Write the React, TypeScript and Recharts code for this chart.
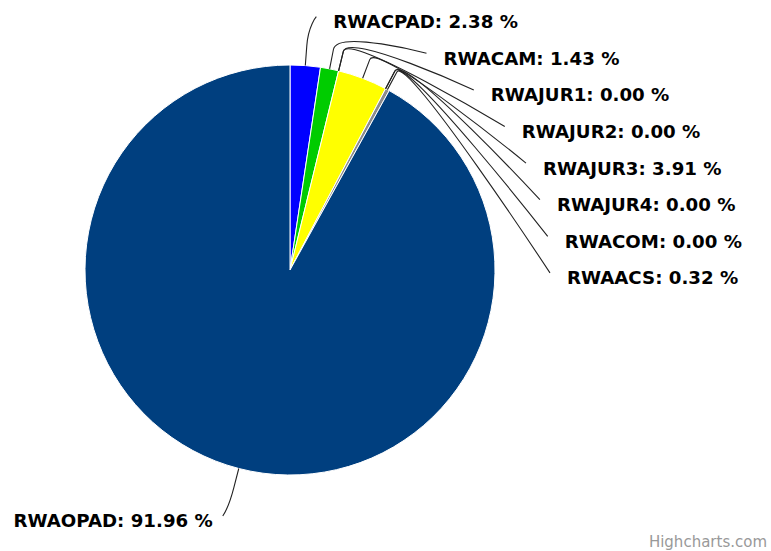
import { PieChart, Pie, Cell } from 'recharts'

const names = ['RWACPAD', 'RWACAM', 'RWAJUR1', 'RWAJUR2', 'RWAJUR3', 'RWAJUR4', 'RWACOM', 'RWAACS', 'RWAOPAD']
const values = [2.38, 1.43, 0, 0, 3.91, 0, 0, 0.32, 91.96]
const colors = ['#0000ff', '#00cc00', '#ff8000', '#aa4643', '#ffff00', '#89a54e', '#80699b', '#8c8c8c', '#003f7f']

const data = names.map((name, i) => ({ name, value: values[i] }))

const RADIUS = 205
// labels sit on an ellipse around the pie, like highcharts does it
const LABEL_RX = 260
const LABEL_RY = 254.6
const ROW = 36.6
const FONT = 'Verdana, "DejaVu Sans", sans-serif'

// stack the right-hand labels so they don't overlap
function labelYs(cy: number) {
  const total = values.reduce((a, b) => a + b, 0)
  let acc = 0
  let prev = -Infinity
  return values.map((v) => {
    const mid = 90 - ((acc + v / 2) / total) * 360
    acc += v
    const rad = (mid * Math.PI) / 180
    let y = cy - 254 * Math.sin(rad)
    if (Math.cos(rad) >= 0) {
      y = Math.max(y, prev + ROW)
      prev = y
    }
    return y
  })
}

function PieLabel(props: any) {
  const { cx, cy, midAngle, index, name, value } = props
  const rad = (midAngle * Math.PI) / 180
  const cos = Math.cos(rad)
  const sin = -Math.sin(rad)
  const right = cos >= 0
  const y = labelYs(cy)[index]
  const dy = Math.min(Math.abs(y - cy), LABEL_RY)
  const dx = LABEL_RX * Math.sqrt(1 - (dy / LABEL_RY) ** 2)
  const x = right ? cx + dx : cx - dx

  // soft connector: label end -> break point -> slice edge
  const tx = cx + RADIUS * cos
  const ty = cy + RADIUS * sin
  const bx = cx + (RADIUS + 20) * cos
  const by = cy + (RADIUS + 20) * sin
  const path = `M ${x} ${y} C ${x} ${y} ${2 * bx - tx} ${2 * by - ty} ${bx} ${by} L ${tx} ${ty}`

  return (
    <g>
      <path d={path} fill="none" stroke="#222" strokeWidth={1.1} />
      <text
        x={right ? x + 17 : x - 10}
        y={y + 5}
        textAnchor={right ? 'start' : 'end'}
        dominantBaseline="central"
        fill="#000"
        fontFamily={FONT}
        fontWeight="bold"
        fontSize={18.2}
      >
        {`${name}: ${Number(value).toFixed(2)} %`}
      </text>
    </g>
  )
}

export default function App() {
  return (
    <div style={{ position: 'absolute', left: 0, top: 0, width: 771, height: 551, background: '#fff' }}>
      <PieChart width={771} height={551} margin={{ top: 0, right: 0, bottom: 0, left: 0 }}>
        <Pie
          data={data}
          dataKey="value"
          nameKey="name"
          cx={290}
          cy={270}
          outerRadius={RADIUS}
          startAngle={90}
          endAngle={-270}
          stroke="#fff"
          strokeWidth={1}
          label={PieLabel}
          labelLine={false}
          isAnimationActive={false}
        >
          {data.map((_, i) => <Cell key={i} fill={colors[i]} />)}
        </Pie>
      </PieChart>
      <div
        style={{
          position: 'absolute',
          right: 4,
          top: 533,
          fontFamily: FONT,
          fontSize: 15,
          color: '#999',
        }}
      >
        Highcharts.com
      </div>
    </div>
  )
}
